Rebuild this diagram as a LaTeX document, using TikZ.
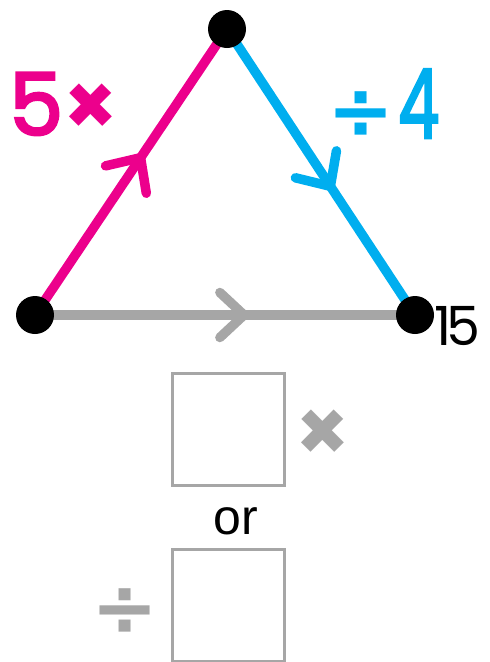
\documentclass[tikz,border=0pt]{standalone}
\usepackage{fontspec}
\setmainfont{Poppins}
\newfontfamily\popsb{Poppins}[FakeBold=3]
\newfontfamily\dejab{DejaVu Sans Bold}
\newfontfamily\arialf{Liberation Sans}
\usetikzlibrary{calc}
\definecolor{pinkc}{HTML}{EC008C}
\definecolor{bluec}{HTML}{00AEEF}
\definecolor{grayc}{HTML}{A6A6A6}
\tikzset{
  edge/.style={line width=9.5pt, line cap=round, line join=round},
  dot/.style={circle, fill=black, minimum size=38pt, inner sep=0pt},
  ansbox/.style={draw=grayc, line width=2.6pt, minimum width=112pt, minimum height=112pt, inner sep=0pt},
  biglabel/.style={inner sep=0pt, font=\fontsize{86}{86}\selectfont},
}
\begin{document}
\begin{tikzpicture}[x=1pt,y=-1pt]
\useasboundingbox (0,0) rectangle (490,662);
\coordinate (A) at (35,315);
\coordinate (T) at (227,29);
\coordinate (B) at (415,315);
% edges
\draw[edge, pinkc] (A) -- (T) coordinate[pos=0.55] (pa);
\draw[edge, bluec] (T) -- (B) coordinate[pos=0.55] (pb);
\draw[edge, grayc] (A) -- (B) coordinate[pos=0.55] (pc);
% chevrons
\draw[edge, pinkc] ($(pa)!36pt!43:(A)$) -- (pa) -- ($(pa)!36pt!-43:(A)$);
\draw[edge, bluec] ($(pb)!36pt!43:(T)$) -- (pb) -- ($(pb)!36pt!-43:(T)$);
\draw[edge, grayc] ($(pc)!33pt!43:(A)$) -- (pc) -- ($(pc)!33pt!-43:(A)$);
% dots
\node[dot] (dA) at (A) {};
\node[dot] (dT) at (T) {};
\node[dot] (dB) at (B) {};
% labels
\node[biglabel, text=pinkc, anchor=base west] (l1) at (9,135) {{\popsb 5}{\bfseries ×}};
\node[biglabel, text=bluec, anchor=base west] (l2) at (327,138) {{\dejab\fontsize{80}{80}\selectfont ÷}\kern 4pt{\popsb\fontsize{96}{96}\selectfont\scalebox{0.68}[1]{4}}};
\node[inner sep=0pt, anchor=base west, font=\fontsize{54}{54}\selectfont] (l3) at (434,345) {1\kern-5pt 5};
% answer boxes
\node[ansbox] (b1) at (228.5,429.5) {};
\node[ansbox] (b2) at (228.5,605.5) {};
\node[inner sep=0pt, anchor=base, font=\arialf\fontsize{50}{50}\selectfont] (or) at (236,534) {or};
\node[inner sep=0pt, text=grayc, font=\fontsize{86}{86}\selectfont\bfseries] (mx) at (323,436) {×};
\node[inner sep=0pt, text=grayc, font=\dejab\fontsize{80}{80}\selectfont] (dv) at (125,612) {÷};
\end{tikzpicture}
\end{document}
